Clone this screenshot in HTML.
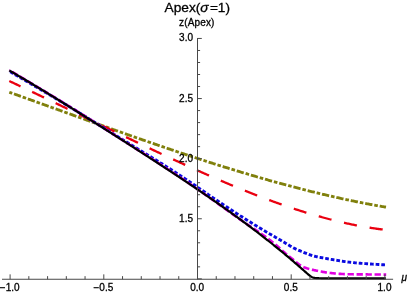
<!DOCTYPE html>
<html><head><meta charset="utf-8"><title>Apex</title>
<style>
html,body{margin:0;padding:0;background:#fff;}
body{width:409px;height:294px;overflow:hidden;font-family:"Liberation Sans",sans-serif;}
svg{display:block;}
text{font-family:"Liberation Sans",sans-serif;fill:#000;stroke:#000;stroke-width:0.3px;}
</style></head><body>
<svg width="409" height="294" viewBox="0 0 409 294">
<rect width="409" height="294" fill="#fff"/>
<g fill="none" stroke-linecap="butt" stroke-linejoin="round">
<path d="M9.30,92.25 L10.24,92.59 L11.19,92.92 L12.13,93.26 L13.08,93.60 L14.02,93.93 L14.96,94.27 L15.91,94.60 L16.85,94.94 L17.80,95.28 L18.74,95.62 L19.69,95.95 L20.63,96.29 L21.57,96.63 L22.52,96.96 L23.46,97.30 L24.41,97.64 L25.35,97.98 L26.29,98.32 L27.24,98.65 L28.18,98.99 L29.13,99.33 L30.07,99.67 L31.01,100.01 L31.96,100.35 L32.90,100.68 L33.85,101.02 L34.79,101.36 L35.74,101.70 L36.68,102.04 L37.62,102.38 L38.57,102.72 L39.51,103.06 L40.46,103.40 L41.40,103.74 L42.34,104.07 L43.29,104.41 L44.23,104.75 L45.18,105.09 L46.12,105.43 L47.06,105.77 L48.01,106.11 L48.95,106.45 L49.90,106.79 L50.84,107.13 L51.78,107.47 L52.73,107.81 L53.67,108.15 L54.62,108.49 L55.56,108.83 L56.51,109.17 L57.45,109.51 L58.39,109.85 L59.34,110.19 L60.28,110.53 L61.23,110.87 L62.17,111.21 L63.11,111.55 L64.06,111.89 L65.00,112.23 L65.95,112.57 L66.89,112.91 L67.83,113.25 L68.78,113.59 L69.72,113.93 L70.67,114.27 L71.61,114.61 L72.56,114.95 L73.50,115.29 L74.44,115.63 L75.39,115.97 L76.33,116.31 L77.28,116.65 L78.22,116.99 L79.16,117.33 L80.11,117.67 L81.05,118.01 L82.00,118.35 L82.94,118.69 L83.88,119.02 L84.83,119.36 L85.77,119.70 L86.72,120.04 L87.66,120.38 L88.61,120.72 L89.55,121.06 L90.49,121.40 L91.44,121.74 L92.38,122.07 L93.33,122.41 L94.27,122.75 L95.21,123.09 L96.16,123.43 L97.10,123.76 L98.05,124.10 L98.99,124.44 L99.93,124.78 L100.88,125.11 L101.82,125.45 L102.77,125.79 L103.71,126.13 L104.66,126.46 L105.60,126.80 L106.54,127.14 L107.49,127.47 L108.43,127.81 L109.38,128.14 L110.32,128.48 L111.26,128.82 L112.21,129.15 L113.15,129.49 L114.10,129.82 L115.04,130.16 L115.98,130.49 L116.93,130.83 L117.87,131.16 L118.82,131.50 L119.76,131.83 L120.71,132.16 L121.65,132.50 L122.59,132.83 L123.54,133.17 L124.48,133.50 L125.43,133.83 L126.37,134.16 L127.31,134.50 L128.26,134.83 L129.20,135.16 L130.15,135.49 L131.09,135.83 L132.03,136.16 L132.98,136.49 L133.92,136.82 L134.87,137.15 L135.81,137.48 L136.75,137.81 L137.70,138.14 L138.64,138.47 L139.59,138.80 L140.53,139.13 L141.48,139.46 L142.42,139.79 L143.36,140.12 L144.31,140.44 L145.25,140.77 L146.20,141.10 L147.14,141.43 L148.08,141.76 L149.03,142.08 L149.97,142.41 L150.92,142.74 L151.86,143.06 L152.80,143.39 L153.75,143.71 L154.69,144.04 L155.64,144.36 L156.58,144.69 L157.53,145.01 L158.47,145.34 L159.41,145.66 L160.36,145.98 L161.30,146.31 L162.25,146.63 L163.19,146.95 L164.13,147.27 L165.08,147.59 L166.02,147.92 L166.97,148.24 L167.91,148.56 L168.85,148.88 L169.80,149.20 L170.74,149.52 L171.69,149.84 L172.63,150.16 L173.58,150.47 L174.52,150.79 L175.46,151.11 L176.41,151.43 L177.35,151.74 L178.30,152.06 L179.24,152.38 L180.18,152.69 L181.13,153.01 L182.07,153.32 L183.02,153.64 L183.96,153.95 L184.90,154.27 L185.85,154.58 L186.79,154.89 L187.74,155.21 L188.68,155.52 L189.63,155.83 L190.57,156.14 L191.51,156.45 L192.46,156.77 L193.40,157.08 L194.35,157.39 L195.29,157.70 L196.23,158.00 L197.18,158.31 L198.12,158.62 L199.07,158.93 L200.01,159.24 L200.95,159.54 L201.90,159.85 L202.84,160.16 L203.79,160.46 L204.73,160.77 L205.67,161.07 L206.62,161.37 L207.56,161.68 L208.51,161.98 L209.45,162.28 L210.40,162.59 L211.34,162.89 L212.28,163.19 L213.23,163.49 L214.17,163.79 L215.12,164.09 L216.06,164.39 L217.00,164.69 L217.95,164.99 L218.89,165.28 L219.84,165.58 L220.78,165.88 L221.72,166.17 L222.67,166.47 L223.61,166.77 L224.56,167.06 L225.50,167.35 L226.45,167.65 L227.39,167.94 L228.33,168.23 L229.28,168.53 L230.22,168.82 L231.17,169.11 L232.11,169.40 L233.05,169.69 L234.00,169.98 L234.94,170.27 L235.89,170.55 L236.83,170.84 L237.77,171.13 L238.72,171.42 L239.66,171.70 L240.61,171.99 L241.55,172.27 L242.50,172.56 L243.44,172.84 L244.38,173.12 L245.33,173.40 L246.27,173.69 L247.22,173.97 L248.16,174.25 L249.10,174.53 L250.05,174.81 L250.99,175.09 L251.94,175.36 L252.88,175.64 L253.82,175.92 L254.77,176.20 L255.71,176.47 L256.66,176.75 L257.60,177.02 L258.55,177.29 L259.49,177.57 L260.43,177.84 L261.38,178.11 L262.32,178.38 L263.27,178.65 L264.21,178.92 L265.15,179.19 L266.10,179.46 L267.04,179.73 L267.99,180.00 L268.93,180.26 L269.87,180.53 L270.82,180.80 L271.76,181.06 L272.71,181.32 L273.65,181.59 L274.59,181.85 L275.54,182.11 L276.48,182.37 L277.43,182.63 L278.37,182.89 L279.32,183.15 L280.26,183.41 L281.20,183.67 L282.15,183.93 L283.09,184.18 L284.04,184.44 L284.98,184.69 L285.92,184.95 L286.87,185.20 L287.81,185.45 L288.76,185.71 L289.70,185.96 L290.64,186.21 L291.59,186.46 L292.53,186.71 L293.48,186.95 L294.42,187.20 L295.37,187.45 L296.31,187.70 L297.25,187.94 L298.20,188.19 L299.14,188.43 L300.09,188.67 L301.03,188.91 L301.97,189.16 L302.92,189.40 L303.86,189.64 L304.81,189.88 L305.75,190.11 L306.69,190.35 L307.64,190.59 L308.58,190.82 L309.53,191.06 L310.47,191.29 L311.42,191.53 L312.36,191.76 L313.30,191.99 L314.25,192.22 L315.19,192.45 L316.14,192.68 L317.08,192.91 L318.02,193.14 L318.97,193.37 L319.91,193.59 L320.86,193.82 L321.80,194.04 L322.74,194.27 L323.69,194.49 L324.63,194.71 L325.58,194.93 L326.52,195.15 L327.47,195.37 L328.41,195.59 L329.35,195.81 L330.30,196.03 L331.24,196.24 L332.19,196.46 L333.13,196.67 L334.07,196.89 L335.02,197.10 L335.96,197.31 L336.91,197.52 L337.85,197.73 L338.79,197.94 L339.74,198.15 L340.68,198.35 L341.63,198.56 L342.57,198.77 L343.52,198.97 L344.46,199.17 L345.40,199.38 L346.35,199.58 L347.29,199.78 L348.24,199.98 L349.18,200.18 L350.12,200.38 L351.07,200.57 L352.01,200.77 L352.96,200.97 L353.90,201.16 L354.84,201.35 L355.79,201.55 L356.73,201.74 L357.68,201.93 L358.62,202.12 L359.56,202.31 L360.51,202.49 L361.45,202.68 L362.40,202.87 L363.34,203.05 L364.29,203.24 L365.23,203.42 L366.17,203.60 L367.12,203.78 L368.06,203.96 L369.01,204.14 L369.95,204.32 L370.89,204.49 L371.84,204.67 L372.78,204.85 L373.73,205.02 L374.67,205.19 L375.61,205.36 L376.56,205.54 L377.50,205.71 L378.45,205.87 L379.39,206.04 L380.34,206.21 L381.28,206.37 L382.22,206.54 L383.17,206.70 L384.11,206.87 L385.06,207.03 L386.00,207.19" stroke="#80800c" stroke-width="2.85" stroke-dasharray="3.6 1.9 7.3 1.93" stroke-dashoffset="0.5"/>
<path d="M9.30,81.04 L10.24,81.49 L11.18,81.93 L12.13,82.38 L13.07,82.82 L14.01,83.27 L14.95,83.71 L15.89,84.16 L16.84,84.60 L17.78,85.05 L18.72,85.49 L19.66,85.94 L20.61,86.39 L21.55,86.83 L22.49,87.28 L23.43,87.73 L24.37,88.17 L25.32,88.62 L26.26,89.07 L27.20,89.52 L28.14,89.97 L29.08,90.41 L30.03,90.86 L30.97,91.31 L31.91,91.76 L32.85,92.21 L33.79,92.66 L34.74,93.11 L35.68,93.56 L36.62,94.01 L37.56,94.46 L38.51,94.91 L39.45,95.36 L40.39,95.81 L41.33,96.26 L42.27,96.71 L43.22,97.16 L44.16,97.61 L45.10,98.07 L46.04,98.52 L46.98,98.97 L47.93,99.42 L48.87,99.87 L49.81,100.33 L50.75,100.78 L51.69,101.23 L52.64,101.68 L53.58,102.14 L54.52,102.59 L55.46,103.04 L56.41,103.50 L57.35,103.95 L58.29,104.40 L59.23,104.86 L60.17,105.31 L61.12,105.76 L62.06,106.22 L63.00,106.67 L63.94,107.13 L64.88,107.58 L65.83,108.03 L66.77,108.49 L67.71,108.94 L68.65,109.40 L69.59,109.85 L70.54,110.31 L71.48,110.76 L72.42,111.22 L73.36,111.67 L74.31,112.13 L75.25,112.58 L76.19,113.04 L77.13,113.49 L78.07,113.95 L79.02,114.40 L79.96,114.86 L80.90,115.31 L81.84,115.77 L82.78,116.22 L83.73,116.68 L84.67,117.14 L85.61,117.59 L86.55,118.05 L87.49,118.50 L88.44,118.96 L89.38,119.41 L90.32,119.87 L91.26,120.32 L92.21,120.78 L93.15,121.24 L94.09,121.69 L95.03,122.15 L95.97,122.60 L96.92,123.06 L97.86,123.51 L98.80,123.97 L99.74,124.42 L100.68,124.88 L101.63,125.33 L102.57,125.79 L103.51,126.24 L104.45,126.70 L105.39,127.15 L106.34,127.61 L107.28,128.06 L108.22,128.52 L109.16,128.97 L110.11,129.43 L111.05,129.88 L111.99,130.34 L112.93,130.79 L113.87,131.24 L114.82,131.70 L115.76,132.15 L116.70,132.61 L117.64,133.06 L118.58,133.51 L119.53,133.97 L120.47,134.42 L121.41,134.87 L122.35,135.33 L123.29,135.78 L124.24,136.23 L125.18,136.68 L126.12,137.14 L127.06,137.59 L128.01,138.04 L128.95,138.49 L129.89,138.94 L130.83,139.39 L131.77,139.84 L132.72,140.30 L133.66,140.75 L134.60,141.20 L135.54,141.65 L136.48,142.10 L137.43,142.55 L138.37,143.00 L139.31,143.45 L140.25,143.89 L141.19,144.34 L142.14,144.79 L143.08,145.24 L144.02,145.69 L144.96,146.13 L145.91,146.58 L146.85,147.03 L147.79,147.48 L148.73,147.92 L149.67,148.37 L150.62,148.81 L151.56,149.26 L152.50,149.70 L153.44,150.15 L154.38,150.59 L155.33,151.04 L156.27,151.48 L157.21,151.92 L158.15,152.37 L159.09,152.81 L160.04,153.25 L160.98,153.69 L161.92,154.14 L162.86,154.58 L163.81,155.02 L164.75,155.46 L165.69,155.90 L166.63,156.34 L167.57,156.78 L168.52,157.21 L169.46,157.65 L170.40,158.09 L171.34,158.53 L172.28,158.96 L173.23,159.40 L174.17,159.84 L175.11,160.27 L176.05,160.71 L176.99,161.14 L177.94,161.57 L178.88,162.01 L179.82,162.44 L180.76,162.87 L181.71,163.30 L182.65,163.73 L183.59,164.16 L184.53,164.59 L185.47,165.02 L186.42,165.45 L187.36,165.88 L188.30,166.31 L189.24,166.74 L190.18,167.16 L191.13,167.59 L192.07,168.01 L193.01,168.44 L193.95,168.86 L194.89,169.29 L195.84,169.71 L196.78,170.13 L197.72,170.55 L198.66,170.97 L199.61,171.39 L200.55,171.81 L201.49,172.23 L202.43,172.65 L203.37,173.07 L204.32,173.49 L205.26,173.90 L206.20,174.32 L207.14,174.73 L208.08,175.15 L209.03,175.56 L209.97,175.97 L210.91,176.38 L211.85,176.79 L212.79,177.20 L213.74,177.61 L214.68,178.02 L215.62,178.43 L216.56,178.84 L217.51,179.24 L218.45,179.65 L219.39,180.05 L220.33,180.46 L221.27,180.86 L222.22,181.26 L223.16,181.66 L224.10,182.06 L225.04,182.46 L225.98,182.86 L226.93,183.26 L227.87,183.66 L228.81,184.05 L229.75,184.45 L230.69,184.84 L231.64,185.23 L232.58,185.63 L233.52,186.02 L234.46,186.41 L235.41,186.80 L236.35,187.18 L237.29,187.57 L238.23,187.96 L239.17,188.34 L240.12,188.73 L241.06,189.11 L242.00,189.49 L242.94,189.87 L243.88,190.25 L244.83,190.63 L245.77,191.01 L246.71,191.39 L247.65,191.76 L248.59,192.14 L249.54,192.51 L250.48,192.88 L251.42,193.26 L252.36,193.63 L253.31,194.00 L254.25,194.36 L255.19,194.73 L256.13,195.10 L257.07,195.46 L258.02,195.82 L258.96,196.19 L259.90,196.55 L260.84,196.91 L261.78,197.27 L262.73,197.62 L263.67,197.98 L264.61,198.33 L265.55,198.69 L266.49,199.04 L267.44,199.39 L268.38,199.74 L269.32,200.09 L270.26,200.44 L271.21,200.78 L272.15,201.13 L273.09,201.47 L274.03,201.81 L274.97,202.15 L275.92,202.49 L276.86,202.83 L277.80,203.17 L278.74,203.50 L279.68,203.83 L280.63,204.17 L281.57,204.50 L282.51,204.83 L283.45,205.16 L284.39,205.48 L285.34,205.81 L286.28,206.13 L287.22,206.45 L288.16,206.77 L289.11,207.09 L290.05,207.41 L290.99,207.73 L291.93,208.04 L292.87,208.35 L293.82,208.67 L294.76,208.98 L295.70,209.28 L296.64,209.59 L297.58,209.90 L298.53,210.20 L299.47,210.50 L300.41,210.80 L301.35,211.10 L302.29,211.40 L303.24,211.69 L304.18,211.99 L305.12,212.28 L306.06,212.57 L307.01,212.86 L307.95,213.14 L308.89,213.43 L309.83,213.71 L310.77,214.00 L311.72,214.28 L312.66,214.55 L313.60,214.83 L314.54,215.11 L315.48,215.38 L316.43,215.65 L317.37,215.92 L318.31,216.19 L319.25,216.45 L320.19,216.72 L321.14,216.98 L322.08,217.24 L323.02,217.50 L323.96,217.75 L324.91,218.01 L325.85,218.26 L326.79,218.51 L327.73,218.76 L328.67,219.01 L329.62,219.25 L330.56,219.49 L331.50,219.73 L332.44,219.97 L333.38,220.21 L334.33,220.45 L335.27,220.68 L336.21,220.91 L337.15,221.14 L338.09,221.36 L339.04,221.59 L339.98,221.81 L340.92,222.03 L341.86,222.25 L342.81,222.47 L343.75,222.68 L344.69,222.89 L345.63,223.10 L346.57,223.31 L347.52,223.52 L348.46,223.72 L349.40,223.92 L350.34,224.12 L351.28,224.31 L352.23,224.51 L353.17,224.70 L354.11,224.89 L355.05,225.08 L355.99,225.26 L356.94,225.45 L357.88,225.63 L358.82,225.81 L359.76,225.98 L360.71,226.16 L361.65,226.33 L362.59,226.50 L363.53,226.66 L364.47,226.83 L365.42,226.99 L366.36,227.15 L367.30,227.30 L368.24,227.46 L369.18,227.61 L370.13,227.76 L371.07,227.91 L372.01,228.05 L372.95,228.19 L373.89,228.33 L374.84,228.47 L375.78,228.60 L376.72,228.74 L377.66,228.87 L378.61,228.99 L379.55,229.12 L380.49,229.24 L381.43,229.36 L382.37,229.47 L383.32,229.59 L384.26,229.70 L385.20,229.81" stroke="#ea0010" stroke-width="2.3" stroke-dasharray="13.2 12.87" stroke-dashoffset="0.8"/>
<path d="M9.30,71.20 L10.05,71.64 L10.81,72.08 L11.56,72.52 L12.32,72.96 L13.07,73.40 L13.82,73.84 L14.58,74.28 L15.33,74.72 L16.09,75.16 L16.84,75.60 L17.59,76.04 L18.35,76.48 L19.10,76.92 L19.85,77.36 L20.61,77.80 L21.36,78.24 L22.12,78.68 L22.87,79.12 L23.62,79.56 L24.38,80.00 L25.13,80.44 L25.89,80.88 L26.64,81.32 L27.39,81.76 L28.15,82.20 L28.90,82.65 L29.66,83.09 L30.41,83.53 L31.16,83.97 L31.92,84.41 L32.67,84.86 L33.43,85.30 L34.18,85.74 L34.93,86.19 L35.69,86.63 L36.44,87.07 L37.19,87.52 L37.95,87.96 L38.70,88.40 L39.46,88.85 L40.21,89.29 L40.96,89.74 L41.72,90.18 L42.47,90.63 L43.23,91.07 L43.98,91.52 L44.73,91.97 L45.49,92.41 L46.24,92.86 L47.00,93.31 L47.75,93.75 L48.50,94.20 L49.26,94.65 L50.01,95.10 L50.76,95.55 L51.52,96.00 L52.27,96.45 L53.03,96.90 L53.78,97.35 L54.53,97.80 L55.29,98.25 L56.04,98.70 L56.80,99.15 L57.55,99.60 L58.30,100.05 L59.06,100.50 L59.81,100.96 L60.57,101.41 L61.32,101.86 L62.07,102.32 L62.83,102.77 L63.58,103.23 L64.34,103.68 L65.09,104.14 L65.84,104.59 L66.60,105.05 L67.35,105.51 L68.10,105.97 L68.86,106.42 L69.61,106.88 L70.37,107.34 L71.12,107.80 L71.87,108.26 L72.63,108.72 L73.38,109.18 L74.14,109.64 L74.89,110.10 L75.64,110.56 L76.40,111.02 L77.15,111.49 L77.91,111.95 L78.66,112.41 L79.41,112.87 L80.17,113.34 L80.92,113.80 L81.68,114.27 L82.43,114.73 L83.18,115.19 L83.94,115.66 L84.69,116.13 L85.44,116.59 L86.20,117.06 L86.95,117.52 L87.71,117.99 L88.46,118.46 L89.21,118.92 L89.97,119.39 L90.72,119.86 L91.48,120.32 L92.23,120.79 L92.98,121.26 L93.74,121.73 L94.49,122.19 L95.25,122.66 L96.00,123.13 L96.75,123.60 L97.51,124.06 L98.26,124.53 L99.02,125.00 L99.77,125.47 L100.52,125.94 L101.28,126.41 L102.03,126.88 L102.78,127.34 L103.54,127.81 L104.29,128.28 L105.05,128.75 L105.80,129.22 L106.55,129.69 L107.31,130.16 L108.06,130.62 L108.82,131.09 L109.57,131.56 L110.32,132.03 L111.08,132.50 L111.83,132.97 L112.59,133.43 L113.34,133.90 L114.09,134.37 L114.85,134.84 L115.60,135.30 L116.35,135.77 L117.11,136.24 L117.86,136.71 L118.62,137.17 L119.37,137.64 L120.12,138.11 L120.88,138.57 L121.63,139.04 L122.39,139.50 L123.14,139.97 L123.89,140.43 L124.65,140.90 L125.40,141.36 L126.16,141.83 L126.91,142.29 L127.66,142.76 L128.42,143.22 L129.17,143.68 L129.93,144.15 L130.68,144.61 L131.43,145.07 L132.19,145.53 L132.94,145.99 L133.69,146.46 L134.45,146.92 L135.20,147.38 L135.96,147.84 L136.71,148.30 L137.46,148.76 L138.22,149.22 L138.97,149.68 L139.73,150.14 L140.48,150.60 L141.23,151.06 L141.99,151.52 L142.74,151.98 L143.50,152.44 L144.25,152.91 L145.00,153.37 L145.76,153.83 L146.51,154.29 L147.27,154.75 L148.02,155.21 L148.77,155.67 L149.53,156.14 L150.28,156.60 L151.03,157.06 L151.79,157.52 L152.54,157.99 L153.30,158.45 L154.05,158.92 L154.80,159.38 L155.56,159.85 L156.31,160.31 L157.07,160.78 L157.82,161.25 L158.57,161.72 L159.33,162.18 L160.08,162.65 L160.84,163.12 L161.59,163.59 L162.34,164.06 L163.10,164.54 L163.85,165.01 L164.61,165.48 L165.36,165.96 L166.11,166.43 L166.87,166.91 L167.62,167.38 L168.37,167.86 L169.13,168.34 L169.88,168.82 L170.64,169.30 L171.39,169.78 L172.14,170.27 L172.90,170.75 L173.65,171.23 L174.41,171.72 L175.16,172.21 L175.91,172.70 L176.67,173.19 L177.42,173.68 L178.18,174.17 L178.93,174.66 L179.68,175.16 L180.44,175.65 L181.19,176.15 L181.94,176.65 L182.70,177.15 L183.45,177.65 L184.21,178.15 L184.96,178.66 L185.71,179.16 L186.47,179.66 L187.22,180.17 L187.98,180.68 L188.73,181.19 L189.48,181.70 L190.24,182.21 L190.99,182.72 L191.75,183.23 L192.50,183.74 L193.25,184.25 L194.01,184.77 L194.76,185.28 L195.52,185.79 L196.27,186.31 L197.02,186.82 L197.78,187.34 L198.53,187.85 L199.28,188.37 L200.04,188.89 L200.79,189.40 L201.55,189.92 L202.30,190.44 L203.05,190.95 L203.81,191.47 L204.56,191.99 L205.32,192.51 L206.07,193.02 L206.82,193.54 L207.58,194.05 L208.33,194.57 L209.09,195.09 L209.84,195.60 L210.59,196.12 L211.35,196.63 L212.10,197.15 L212.86,197.66 L213.61,198.17 L214.36,198.69 L215.12,199.20 L215.87,199.71 L216.62,200.22 L217.38,200.73 L218.13,201.24 L218.89,201.75 L219.64,202.26 L220.39,202.76 L221.15,203.27 L221.90,203.78 L222.66,204.28 L223.41,204.78 L224.16,205.28 L224.92,205.79 L225.67,206.29 L226.43,206.79 L227.18,207.28 L227.93,207.78 L228.69,208.28 L229.44,208.77 L230.19,209.27 L230.95,209.76 L231.70,210.26 L232.46,210.75 L233.21,211.24 L233.96,211.73 L234.72,212.22 L235.47,212.71 L236.23,213.20 L236.98,213.68 L237.73,214.17 L238.49,214.66 L239.24,215.14 L240.00,215.63 L240.75,216.11 L241.50,216.59 L242.26,217.07 L243.01,217.55 L243.77,218.03 L244.52,218.51 L245.27,218.99 L246.03,219.47 L246.78,219.94 L247.53,220.42 L248.29,220.90 L249.04,221.37 L249.80,221.84 L250.55,222.31 L251.30,222.79 L252.06,223.26 L252.81,223.72 L253.57,224.19 L254.32,224.66 L255.07,225.13 L255.83,225.59 L256.58,226.05 L257.34,226.52 L258.09,226.98 L258.84,227.44 L259.60,227.90 L260.35,228.35 L261.11,228.81 L261.86,229.26 L262.61,229.72 L263.37,230.17 L264.12,230.62 L264.87,231.07 L265.63,231.52 L266.38,231.96 L267.14,232.41 L267.89,232.85 L268.64,233.29 L269.40,233.73 L270.15,234.17 L270.91,234.61 L271.66,235.04 L272.41,235.48 L273.17,235.91 L273.92,236.35 L274.68,236.78 L275.43,237.22 L276.18,237.65 L276.94,238.09 L277.69,238.52 L278.45,238.96 L279.20,239.39 L279.95,239.83 L280.71,240.27 L281.46,240.71 L282.21,241.16 L282.97,241.60 L283.72,242.05 L284.48,242.50 L285.23,242.95 L285.98,243.40 L286.74,243.86 L287.49,244.32 L288.25,244.79 L289.00,245.25 L289.75,245.70 L290.51,246.16 L291.26,246.60 L292.02,247.03 L292.77,247.45 L293.52,247.86 L294.28,248.25 L295.03,248.62 L295.78,248.98 L296.54,249.33 L297.29,249.67 L298.05,250.00 L298.80,250.32 L299.55,250.64 L300.31,250.96 L301.06,251.28 L301.82,251.60 L302.57,251.91 L303.32,252.23 L304.08,252.54 L304.83,252.85 L305.59,253.16 L306.34,253.46 L307.09,253.76 L307.85,254.05 L308.60,254.34 L309.36,254.62 L310.11,254.89 L310.86,255.15 L311.62,255.40 L312.37,255.63 L313.12,255.86 L313.88,256.07 L314.63,256.26 L315.39,256.44 L316.14,256.61 L316.89,256.77 L317.65,256.92 L318.40,257.06 L319.16,257.20 L319.91,257.34 L320.66,257.48 L321.42,257.61 L322.17,257.75 L322.93,257.89 L323.68,258.03 L324.43,258.16 L325.19,258.30 L325.94,258.44 L326.70,258.58 L327.45,258.72 L328.20,258.86 L328.96,258.99 L329.71,259.13 L330.46,259.26 L331.22,259.39 L331.97,259.53 L332.73,259.66 L333.48,259.79 L334.23,259.92 L334.99,260.04 L335.74,260.17 L336.50,260.29 L337.25,260.42 L338.00,260.54 L338.76,260.66 L339.51,260.78 L340.27,260.90 L341.02,261.02 L341.77,261.13 L342.53,261.24 L343.28,261.35 L344.04,261.46 L344.79,261.57 L345.54,261.68 L346.30,261.78 L347.05,261.88 L347.80,261.98 L348.56,262.07 L349.31,262.17 L350.07,262.26 L350.82,262.35 L351.57,262.43 L352.33,262.51 L353.08,262.59 L353.84,262.67 L354.59,262.75 L355.34,262.82 L356.10,262.89 L356.85,262.96 L357.61,263.03 L358.36,263.09 L359.11,263.16 L359.87,263.22 L360.62,263.28 L361.37,263.34 L362.13,263.40 L362.88,263.45 L363.64,263.51 L364.39,263.57 L365.14,263.62 L365.90,263.67 L366.65,263.73 L367.41,263.78 L368.16,263.83 L368.91,263.88 L369.67,263.93 L370.42,263.98 L371.18,264.03 L371.93,264.08 L372.68,264.13 L373.44,264.18 L374.19,264.22 L374.95,264.27 L375.70,264.32 L376.45,264.36 L377.21,264.41 L377.96,264.46 L378.71,264.50 L379.47,264.55 L380.22,264.59 L380.98,264.64 L381.73,264.68 L382.48,264.72 L383.24,264.77 L383.99,264.81 L384.75,264.86 L385.50,264.90" stroke="#0a0ae0" stroke-width="2.9" stroke-dasharray="3.7 1.95" stroke-dashoffset="4.65"/>
<path d="M9.30,70.20 L10.06,70.65 L10.81,71.10 L11.57,71.55 L12.32,71.99 L13.08,72.44 L13.83,72.89 L14.59,73.34 L15.34,73.79 L16.10,74.24 L16.85,74.69 L17.61,75.14 L18.36,75.59 L19.12,76.03 L19.87,76.48 L20.63,76.93 L21.38,77.38 L22.14,77.83 L22.90,78.28 L23.65,78.73 L24.41,79.18 L25.16,79.63 L25.92,80.08 L26.67,80.53 L27.43,80.98 L28.18,81.43 L28.94,81.89 L29.69,82.34 L30.45,82.79 L31.20,83.24 L31.96,83.69 L32.71,84.14 L33.47,84.59 L34.23,85.05 L34.98,85.50 L35.74,85.95 L36.49,86.40 L37.25,86.86 L38.00,87.31 L38.76,87.77 L39.51,88.22 L40.27,88.67 L41.02,89.13 L41.78,89.58 L42.53,90.04 L43.29,90.49 L44.04,90.95 L44.80,91.41 L45.55,91.86 L46.31,92.32 L47.07,92.78 L47.82,93.23 L48.58,93.69 L49.33,94.15 L50.09,94.61 L50.84,95.07 L51.60,95.53 L52.35,95.99 L53.11,96.45 L53.86,96.91 L54.62,97.37 L55.37,97.83 L56.13,98.29 L56.88,98.75 L57.64,99.21 L58.40,99.68 L59.15,100.14 L59.91,100.60 L60.66,101.07 L61.42,101.53 L62.17,102.00 L62.93,102.46 L63.68,102.93 L64.44,103.40 L65.19,103.86 L65.95,104.33 L66.70,104.80 L67.46,105.27 L68.21,105.74 L68.97,106.20 L69.72,106.67 L70.48,107.14 L71.24,107.61 L71.99,108.08 L72.75,108.56 L73.50,109.03 L74.26,109.50 L75.01,109.97 L75.77,110.44 L76.52,110.91 L77.28,111.39 L78.03,111.86 L78.79,112.33 L79.54,112.81 L80.30,113.28 L81.05,113.76 L81.81,114.23 L82.57,114.71 L83.32,115.18 L84.08,115.66 L84.83,116.13 L85.59,116.61 L86.34,117.09 L87.10,117.56 L87.85,118.04 L88.61,118.52 L89.36,119.00 L90.12,119.47 L90.87,119.95 L91.63,120.43 L92.38,120.91 L93.14,121.39 L93.89,121.87 L94.65,122.35 L95.41,122.83 L96.16,123.30 L96.92,123.78 L97.67,124.26 L98.43,124.74 L99.18,125.22 L99.94,125.71 L100.69,126.19 L101.45,126.67 L102.20,127.15 L102.96,127.63 L103.71,128.11 L104.47,128.59 L105.22,129.07 L105.98,129.55 L106.74,130.03 L107.49,130.52 L108.25,131.00 L109.00,131.48 L109.76,131.96 L110.51,132.44 L111.27,132.93 L112.02,133.41 L112.78,133.89 L113.53,134.37 L114.29,134.86 L115.04,135.34 L115.80,135.82 L116.55,136.30 L117.31,136.79 L118.06,137.27 L118.82,137.75 L119.58,138.23 L120.33,138.72 L121.09,139.20 L121.84,139.68 L122.60,140.16 L123.35,140.65 L124.11,141.13 L124.86,141.61 L125.62,142.09 L126.37,142.58 L127.13,143.06 L127.88,143.54 L128.64,144.02 L129.39,144.51 L130.15,144.99 L130.91,145.47 L131.66,145.95 L132.42,146.43 L133.17,146.92 L133.93,147.40 L134.68,147.88 L135.44,148.36 L136.19,148.84 L136.95,149.33 L137.70,149.81 L138.46,150.29 L139.21,150.77 L139.97,151.25 L140.72,151.74 L141.48,152.22 L142.23,152.70 L142.99,153.18 L143.75,153.67 L144.50,154.15 L145.26,154.63 L146.01,155.12 L146.77,155.60 L147.52,156.08 L148.28,156.57 L149.03,157.05 L149.79,157.54 L150.54,158.02 L151.30,158.51 L152.05,158.99 L152.81,159.48 L153.56,159.96 L154.32,160.45 L155.07,160.93 L155.83,161.42 L156.59,161.91 L157.34,162.40 L158.10,162.88 L158.85,163.37 L159.61,163.86 L160.36,164.35 L161.12,164.84 L161.87,165.33 L162.63,165.82 L163.38,166.31 L164.14,166.80 L164.89,167.29 L165.65,167.79 L166.40,168.28 L167.16,168.77 L167.92,169.27 L168.67,169.76 L169.43,170.25 L170.18,170.75 L170.94,171.25 L171.69,171.74 L172.45,172.24 L173.20,172.74 L173.96,173.24 L174.71,173.74 L175.47,174.24 L176.22,174.74 L176.98,175.24 L177.73,175.74 L178.49,176.24 L179.24,176.75 L180.00,177.25 L180.76,177.75 L181.51,178.26 L182.27,178.77 L183.02,179.27 L183.78,179.78 L184.53,180.29 L185.29,180.80 L186.04,181.31 L186.80,181.82 L187.55,182.33 L188.31,182.85 L189.06,183.36 L189.82,183.87 L190.57,184.39 L191.33,184.91 L192.09,185.42 L192.84,185.94 L193.60,186.46 L194.35,186.98 L195.11,187.50 L195.86,188.03 L196.62,188.55 L197.37,189.07 L198.13,189.60 L198.88,190.12 L199.64,190.65 L200.39,191.18 L201.15,191.71 L201.90,192.24 L202.66,192.77 L203.41,193.30 L204.17,193.84 L204.93,194.37 L205.68,194.91 L206.44,195.44 L207.19,195.98 L207.95,196.52 L208.70,197.05 L209.46,197.59 L210.21,198.13 L210.97,198.67 L211.72,199.21 L212.48,199.75 L213.23,200.29 L213.99,200.83 L214.74,201.37 L215.50,201.91 L216.26,202.45 L217.01,203.00 L217.77,203.54 L218.52,204.08 L219.28,204.62 L220.03,205.16 L220.79,205.71 L221.54,206.25 L222.30,206.79 L223.05,207.33 L223.81,207.87 L224.56,208.41 L225.32,208.95 L226.07,209.50 L226.83,210.04 L227.58,210.57 L228.34,211.11 L229.10,211.65 L229.85,212.19 L230.61,212.73 L231.36,213.27 L232.12,213.80 L232.87,214.34 L233.63,214.87 L234.38,215.41 L235.14,215.94 L235.89,216.47 L236.65,217.00 L237.40,217.53 L238.16,218.06 L238.91,218.59 L239.67,219.12 L240.43,219.64 L241.18,220.17 L241.94,220.69 L242.69,221.21 L243.45,221.73 L244.20,222.25 L244.96,222.77 L245.71,223.29 L246.47,223.80 L247.22,224.32 L247.98,224.83 L248.73,225.34 L249.49,225.85 L250.24,226.36 L251.00,226.86 L251.75,227.37 L252.51,227.87 L253.27,228.37 L254.02,228.88 L254.78,229.38 L255.53,229.88 L256.29,230.39 L257.04,230.89 L257.80,231.40 L258.55,231.91 L259.31,232.42 L260.06,232.93 L260.82,233.45 L261.57,233.97 L262.33,234.49 L263.08,235.02 L263.84,235.55 L264.59,236.09 L265.35,236.63 L266.11,237.18 L266.86,237.73 L267.62,238.29 L268.37,238.85 L269.13,239.43 L269.88,240.01 L270.64,240.59 L271.39,241.19 L272.15,241.79 L272.90,242.40 L273.66,243.02 L274.41,243.65 L275.17,244.29 L275.92,244.94 L276.68,245.59 L277.44,246.26 L278.19,246.93 L278.95,247.60 L279.70,248.28 L280.46,248.95 L281.21,249.63 L281.97,250.30 L282.72,250.98 L283.48,251.65 L284.23,252.31 L284.99,252.96 L285.74,253.61 L286.50,254.25 L287.25,254.88 L288.01,255.49 L288.76,256.10 L289.52,256.71 L290.28,257.31 L291.03,257.91 L291.79,258.52 L292.54,259.13 L293.30,259.75 L294.05,260.38 L294.81,261.02 L295.56,261.66 L296.32,262.30 L297.07,262.92 L297.83,263.53 L298.58,264.12 L299.34,264.68 L300.09,265.20 L300.85,265.68 L301.61,266.12 L302.36,266.52 L303.12,266.89 L303.87,267.22 L304.63,267.52 L305.38,267.80 L306.14,268.06 L306.89,268.31 L307.65,268.53 L308.40,268.75 L309.16,268.95 L309.91,269.15 L310.67,269.34 L311.42,269.52 L312.18,269.69 L312.93,269.86 L313.69,270.03 L314.45,270.20 L315.20,270.36 L315.96,270.52 L316.71,270.68 L317.47,270.84 L318.22,271.00 L318.98,271.15 L319.73,271.30 L320.49,271.44 L321.24,271.58 L322.00,271.72 L322.75,271.85 L323.51,271.98 L324.26,272.11 L325.02,272.23 L325.78,272.35 L326.53,272.46 L327.29,272.57 L328.04,272.68 L328.80,272.78 L329.55,272.88 L330.31,272.97 L331.06,273.06 L331.82,273.15 L332.57,273.23 L333.33,273.31 L334.08,273.39 L334.84,273.46 L335.59,273.53 L336.35,273.60 L337.10,273.66 L337.86,273.72 L338.62,273.77 L339.37,273.83 L340.13,273.87 L340.88,273.92 L341.64,273.96 L342.39,274.00 L343.15,274.04 L343.90,274.08 L344.66,274.11 L345.41,274.14 L346.17,274.17 L346.92,274.19 L347.68,274.21 L348.43,274.23 L349.19,274.25 L349.95,274.27 L350.70,274.29 L351.46,274.30 L352.21,274.31 L352.97,274.32 L353.72,274.33 L354.48,274.34 L355.23,274.35 L355.99,274.36 L356.74,274.36 L357.50,274.37 L358.25,274.37 L359.01,274.38 L359.76,274.38 L360.52,274.39 L361.27,274.39 L362.03,274.39 L362.79,274.40 L363.54,274.40 L364.30,274.40 L365.05,274.41 L365.81,274.41 L366.56,274.42 L367.32,274.42 L368.07,274.43 L368.83,274.43 L369.58,274.44 L370.34,274.45 L371.09,274.45 L371.85,274.46 L372.60,274.46 L373.36,274.47 L374.12,274.48 L374.87,274.48 L375.63,274.49 L376.38,274.50 L377.14,274.51 L377.89,274.51 L378.65,274.52 L379.40,274.53 L380.16,274.54 L380.91,274.54 L381.67,274.55 L382.42,274.56 L383.18,274.57 L383.93,274.58 L384.69,274.58 L385.44,274.59 L386.20,274.60" stroke="#e000e0" stroke-width="2.6" stroke-dasharray="6.3 2.7" stroke-dashoffset="5.8"/>
<path d="M9.30,70.50 L9.93,70.86 L10.56,71.22 L11.19,71.59 L11.81,71.95 L12.44,72.32 L13.07,72.68 L13.70,73.04 L14.33,73.41 L14.96,73.78 L15.59,74.14 L16.21,74.51 L16.84,74.88 L17.47,75.24 L18.10,75.61 L18.73,75.98 L19.36,76.35 L19.99,76.72 L20.61,77.09 L21.24,77.46 L21.87,77.83 L22.50,78.20 L23.13,78.57 L23.76,78.94 L24.39,79.31 L25.01,79.69 L25.64,80.06 L26.27,80.43 L26.90,80.81 L27.53,81.18 L28.16,81.55 L28.78,81.93 L29.41,82.30 L30.04,82.68 L30.67,83.05 L31.30,83.43 L31.93,83.81 L32.56,84.18 L33.18,84.56 L33.81,84.94 L34.44,85.32 L35.07,85.69 L35.70,86.07 L36.33,86.45 L36.96,86.83 L37.58,87.21 L38.21,87.59 L38.84,87.97 L39.47,88.35 L40.10,88.73 L40.73,89.11 L41.36,89.49 L41.98,89.87 L42.61,90.25 L43.24,90.64 L43.87,91.02 L44.50,91.40 L45.13,91.78 L45.76,92.17 L46.38,92.55 L47.01,92.93 L47.64,93.32 L48.27,93.70 L48.90,94.09 L49.53,94.47 L50.16,94.85 L50.78,95.24 L51.41,95.62 L52.04,96.01 L52.67,96.40 L53.30,96.78 L53.93,97.17 L54.56,97.55 L55.18,97.94 L55.81,98.33 L56.44,98.72 L57.07,99.10 L57.70,99.49 L58.33,99.88 L58.96,100.27 L59.58,100.65 L60.21,101.04 L60.84,101.43 L61.47,101.82 L62.10,102.21 L62.73,102.60 L63.36,102.99 L63.98,103.38 L64.61,103.77 L65.24,104.16 L65.87,104.55 L66.50,104.94 L67.13,105.33 L67.75,105.72 L68.38,106.11 L69.01,106.50 L69.64,106.89 L70.27,107.28 L70.90,107.68 L71.53,108.07 L72.15,108.46 L72.78,108.85 L73.41,109.24 L74.04,109.64 L74.67,110.03 L75.30,110.42 L75.93,110.81 L76.55,111.21 L77.18,111.60 L77.81,111.99 L78.44,112.39 L79.07,112.78 L79.70,113.18 L80.33,113.57 L80.95,113.96 L81.58,114.36 L82.21,114.75 L82.84,115.15 L83.47,115.54 L84.10,115.94 L84.73,116.33 L85.35,116.73 L85.98,117.12 L86.61,117.52 L87.24,117.91 L87.87,118.31 L88.50,118.70 L89.13,119.10 L89.75,119.50 L90.38,119.89 L91.01,120.29 L91.64,120.68 L92.27,121.08 L92.90,121.48 L93.53,121.87 L94.15,122.27 L94.78,122.67 L95.41,123.07 L96.04,123.46 L96.67,123.86 L97.30,124.26 L97.93,124.66 L98.55,125.05 L99.18,125.45 L99.81,125.85 L100.44,126.25 L101.07,126.65 L101.70,127.04 L102.33,127.44 L102.95,127.84 L103.58,128.24 L104.21,128.64 L104.84,129.04 L105.47,129.44 L106.10,129.83 L106.72,130.23 L107.35,130.63 L107.98,131.03 L108.61,131.43 L109.24,131.83 L109.87,132.23 L110.50,132.63 L111.12,133.03 L111.75,133.43 L112.38,133.83 L113.01,134.23 L113.64,134.63 L114.27,135.03 L114.90,135.43 L115.52,135.83 L116.15,136.23 L116.78,136.64 L117.41,137.04 L118.04,137.44 L118.67,137.84 L119.30,138.24 L119.92,138.64 L120.55,139.04 L121.18,139.44 L121.81,139.85 L122.44,140.25 L123.07,140.65 L123.70,141.05 L124.32,141.45 L124.95,141.86 L125.58,142.26 L126.21,142.66 L126.84,143.06 L127.47,143.47 L128.10,143.87 L128.72,144.27 L129.35,144.68 L129.98,145.08 L130.61,145.48 L131.24,145.89 L131.87,146.29 L132.50,146.69 L133.12,147.10 L133.75,147.50 L134.38,147.91 L135.01,148.31 L135.64,148.72 L136.27,149.12 L136.90,149.52 L137.52,149.93 L138.15,150.33 L138.78,150.74 L139.41,151.14 L140.04,151.55 L140.67,151.95 L141.29,152.36 L141.92,152.77 L142.55,153.17 L143.18,153.58 L143.81,153.98 L144.44,154.39 L145.07,154.80 L145.69,155.20 L146.32,155.61 L146.95,156.02 L147.58,156.42 L148.21,156.83 L148.84,157.24 L149.47,157.65 L150.09,158.05 L150.72,158.46 L151.35,158.87 L151.98,159.28 L152.61,159.69 L153.24,160.09 L153.87,160.50 L154.49,160.91 L155.12,161.32 L155.75,161.73 L156.38,162.14 L157.01,162.55 L157.64,162.96 L158.27,163.37 L158.89,163.78 L159.52,164.19 L160.15,164.60 L160.78,165.01 L161.41,165.42 L162.04,165.83 L162.67,166.24 L163.29,166.65 L163.92,167.06 L164.55,167.48 L165.18,167.89 L165.81,168.30 L166.44,168.71 L167.07,169.12 L167.69,169.54 L168.32,169.95 L168.95,170.36 L169.58,170.78 L170.21,171.19 L170.84,171.60 L171.47,172.02 L172.09,172.43 L172.72,172.85 L173.35,173.26 L173.98,173.68 L174.61,174.09 L175.24,174.51 L175.87,174.92 L176.49,175.34 L177.12,175.76 L177.75,176.17 L178.38,176.59 L179.01,177.01 L179.64,177.42 L180.26,177.84 L180.89,178.26 L181.52,178.68 L182.15,179.10 L182.78,179.51 L183.41,179.93 L184.04,180.35 L184.66,180.77 L185.29,181.19 L185.92,181.61 L186.55,182.03 L187.18,182.45 L187.81,182.87 L188.44,183.29 L189.06,183.72 L189.69,184.14 L190.32,184.56 L190.95,184.98 L191.58,185.41 L192.21,185.83 L192.84,186.25 L193.46,186.68 L194.09,187.10 L194.72,187.53 L195.35,187.95 L195.98,188.38 L196.61,188.80 L197.24,189.23 L197.86,189.65 L198.49,190.08 L199.12,190.51 L199.75,190.93 L200.38,191.36 L201.01,191.79 L201.64,192.22 L202.26,192.65 L202.89,193.08 L203.52,193.51 L204.15,193.94 L204.78,194.37 L205.41,194.80 L206.04,195.23 L206.66,195.66 L207.29,196.09 L207.92,196.53 L208.55,196.96 L209.18,197.39 L209.81,197.83 L210.44,198.26 L211.06,198.70 L211.69,199.13 L212.32,199.57 L212.95,200.00 L213.58,200.44 L214.21,200.88 L214.84,201.31 L215.46,201.75 L216.09,202.19 L216.72,202.63 L217.35,203.07 L217.98,203.51 L218.61,203.95 L219.23,204.39 L219.86,204.83 L220.49,205.27 L221.12,205.72 L221.75,206.16 L222.38,206.60 L223.01,207.05 L223.63,207.49 L224.26,207.94 L224.89,208.38 L225.52,208.83 L226.15,209.28 L226.78,209.72 L227.41,210.17 L228.03,210.62 L228.66,211.07 L229.29,211.52 L229.92,211.97 L230.55,212.42 L231.18,212.87 L231.81,213.32 L232.43,213.78 L233.06,214.23 L233.69,214.68 L234.32,215.14 L234.95,215.59 L235.58,216.05 L236.21,216.50 L236.83,216.96 L237.46,217.42 L238.09,217.88 L238.72,218.34 L239.35,218.80 L239.98,219.26 L240.61,219.72 L241.23,220.18 L241.86,220.64 L242.49,221.10 L243.12,221.57 L243.75,222.03 L244.38,222.50 L245.01,222.96 L245.63,223.43 L246.26,223.90 L246.89,224.37 L247.52,224.84 L248.15,225.30 L248.78,225.78 L249.41,226.25 L250.03,226.72 L250.66,227.19 L251.29,227.66 L251.92,228.14 L252.55,228.61 L253.18,229.09 L253.81,229.57 L254.43,230.04 L255.06,230.52 L255.69,231.00 L256.32,231.48 L256.95,231.96 L257.58,232.44 L258.20,232.92 L258.83,233.41 L259.46,233.89 L260.09,234.38 L260.72,234.86 L261.35,235.35 L261.98,235.84 L262.60,236.32 L263.23,236.81 L263.86,237.30 L264.49,237.79 L265.12,238.29 L265.75,238.78 L266.38,239.27 L267.00,239.77 L267.63,240.26 L268.26,240.76 L268.89,241.26 L269.52,241.76 L270.15,242.26 L270.78,242.76 L271.40,243.26 L272.03,243.76 L272.66,244.26 L273.29,244.77 L273.92,245.27 L274.55,245.78 L275.18,246.29 L275.80,246.80 L276.43,247.31 L277.06,247.82 L277.69,248.33 L278.32,248.84 L278.95,249.35 L279.58,249.87 L280.20,250.38 L280.83,250.90 L281.46,251.42 L282.09,251.94 L282.72,252.46 L283.35,252.98 L283.98,253.50 L284.60,254.02 L285.23,254.55 L285.86,255.07 L286.49,255.60 L287.12,256.13 L287.75,256.66 L288.38,257.19 L289.00,257.72 L289.63,258.25 L290.26,258.78 L290.89,259.32 L291.52,259.85 L292.15,260.39 L292.77,260.93 L293.40,261.46 L294.03,262.00 L294.66,262.54 L295.29,263.09 L295.92,263.63 L296.55,264.17 L297.17,264.72 L297.80,265.26 L298.43,265.81 L299.06,266.36 L299.69,266.91 L300.32,267.46 L300.95,268.01 L301.57,268.56 L302.20,269.11 L302.83,269.66 L303.46,270.21 L304.09,270.76 L304.72,271.31 L305.35,271.86 L305.97,272.41 L306.60,272.96 L307.23,273.50 L307.86,274.04 L308.49,274.56 L309.12,275.08 L309.75,275.58 L310.37,276.06 L311.00,276.50 L311.63,276.90 L312.26,277.23 L312.89,277.49 L313.52,277.69 L314.15,277.83 L314.77,277.94 L315.40,278.02 L316.03,278.08 L316.66,278.12 L317.29,278.16 L317.92,278.19 L318.55,278.21 L319.17,278.23 L319.80,278.25 L320.43,278.27 L321.06,278.28 L321.69,278.29 L322.32,278.30 L322.95,278.31 L323.57,278.32 L324.20,278.32 L324.83,278.33 L325.46,278.34 L326.09,278.34 L326.72,278.35 L327.35,278.35 L327.97,278.35 L328.60,278.36 L329.23,278.36 L329.86,278.37 L330.49,278.37 L331.12,278.37 L331.74,278.37 L332.37,278.38 L333.00,278.38 L333.63,278.38 L334.26,278.38 L334.89,278.38 L335.52,278.39 L336.14,278.39 L336.77,278.39 L337.40,278.39 L338.03,278.39 L338.66,278.39 L339.29,278.40 L339.92,278.40 L340.54,278.40 L341.17,278.40 L341.80,278.40 L342.43,278.40 L343.06,278.40 L343.69,278.40 L344.32,278.40 L344.94,278.41 L345.57,278.41 L346.20,278.41 L346.83,278.41 L347.46,278.41 L348.09,278.41 L348.72,278.41 L349.34,278.41 L349.97,278.41 L350.60,278.41 L351.23,278.41 L351.86,278.41 L352.49,278.41 L353.12,278.42 L353.74,278.42 L354.37,278.42 L355.00,278.42 L355.63,278.42 L356.26,278.42 L356.89,278.42 L357.52,278.42 L358.14,278.42 L358.77,278.42 L359.40,278.42 L360.03,278.42 L360.66,278.42 L361.29,278.42 L361.92,278.42 L362.54,278.42 L363.17,278.42 L363.80,278.42 L364.43,278.42 L365.06,278.42 L365.69,278.42 L366.32,278.42 L366.94,278.42 L367.57,278.43 L368.20,278.43 L368.83,278.43 L369.46,278.43 L370.09,278.43 L370.71,278.43 L371.34,278.43 L371.97,278.43 L372.60,278.43 L373.23,278.43 L373.86,278.43 L374.49,278.43 L375.11,278.43 L375.74,278.43 L376.37,278.43 L377.00,278.43 L377.63,278.43 L378.26,278.43 L378.89,278.43 L379.51,278.43 L380.14,278.43 L380.77,278.43 L381.40,278.43 L382.03,278.43 L382.66,278.43 L383.29,278.43 L383.91,278.43 L384.54,278.43 L385.17,278.43 L385.80,278.43" stroke="#000" stroke-width="2.2"/>
</g>
<g stroke="#484848" stroke-width="1" fill="none">
<line x1="2" y1="279.25" x2="393.1" y2="279.25"/>
<line x1="197.5" y1="279.25" x2="197.5" y2="38.050000000000004"/>
<line x1="10.10" y1="279.25" x2="10.10" y2="274.35"/><line x1="28.84" y1="279.25" x2="28.84" y2="276.15"/><line x1="47.58" y1="279.25" x2="47.58" y2="276.15"/><line x1="66.32" y1="279.25" x2="66.32" y2="276.15"/><line x1="85.06" y1="279.25" x2="85.06" y2="276.15"/><line x1="103.80" y1="279.25" x2="103.80" y2="274.35"/><line x1="122.54" y1="279.25" x2="122.54" y2="276.15"/><line x1="141.28" y1="279.25" x2="141.28" y2="276.15"/><line x1="160.02" y1="279.25" x2="160.02" y2="276.15"/><line x1="178.76" y1="279.25" x2="178.76" y2="276.15"/><line x1="197.50" y1="279.25" x2="197.50" y2="274.35"/><line x1="216.24" y1="279.25" x2="216.24" y2="276.15"/><line x1="234.98" y1="279.25" x2="234.98" y2="276.15"/><line x1="253.72" y1="279.25" x2="253.72" y2="276.15"/><line x1="272.46" y1="279.25" x2="272.46" y2="276.15"/><line x1="291.20" y1="279.25" x2="291.20" y2="274.35"/><line x1="309.94" y1="279.25" x2="309.94" y2="276.15"/><line x1="328.68" y1="279.25" x2="328.68" y2="276.15"/><line x1="347.42" y1="279.25" x2="347.42" y2="276.15"/><line x1="366.16" y1="279.25" x2="366.16" y2="276.15"/><line x1="384.90" y1="279.25" x2="384.90" y2="274.35"/><line x1="197.5" y1="278.85" x2="201.80" y2="278.85"/><line x1="197.5" y1="266.83" x2="200.10" y2="266.83"/><line x1="197.5" y1="254.81" x2="200.10" y2="254.81"/><line x1="197.5" y1="242.79" x2="200.10" y2="242.79"/><line x1="197.5" y1="230.77" x2="200.10" y2="230.77"/><line x1="197.5" y1="218.75" x2="201.80" y2="218.75"/><line x1="197.5" y1="206.73" x2="200.10" y2="206.73"/><line x1="197.5" y1="194.71" x2="200.10" y2="194.71"/><line x1="197.5" y1="182.69" x2="200.10" y2="182.69"/><line x1="197.5" y1="170.67" x2="200.10" y2="170.67"/><line x1="197.5" y1="158.65" x2="201.80" y2="158.65"/><line x1="197.5" y1="146.63" x2="200.10" y2="146.63"/><line x1="197.5" y1="134.61" x2="200.10" y2="134.61"/><line x1="197.5" y1="122.59" x2="200.10" y2="122.59"/><line x1="197.5" y1="110.57" x2="200.10" y2="110.57"/><line x1="197.5" y1="98.55" x2="201.80" y2="98.55"/><line x1="197.5" y1="86.53" x2="200.10" y2="86.53"/><line x1="197.5" y1="74.51" x2="200.10" y2="74.51"/><line x1="197.5" y1="62.49" x2="200.10" y2="62.49"/><line x1="197.5" y1="50.47" x2="200.10" y2="50.47"/><line x1="197.5" y1="38.45" x2="201.80" y2="38.45"/>
</g>
<g font-size="10" style="will-change:transform;transform:translateZ(0)">
<text x="9.70" y="291.4" text-anchor="middle">−1.0</text><text x="103.40" y="291.4" text-anchor="middle">−0.5</text><text x="197.10" y="291.4" text-anchor="middle">0.0</text><text x="290.80" y="291.4" text-anchor="middle">0.5</text><text x="384.50" y="291.4" text-anchor="middle">1.0</text><text x="193.0" y="221.75" text-anchor="end">1.5</text><text x="193.0" y="161.65" text-anchor="end">2.0</text><text x="193.0" y="101.55" text-anchor="end">2.5</text><text x="193.0" y="41.45" text-anchor="end">3.0</text>
<text x="196.8" y="26.3" font-size="10" letter-spacing="0.15" text-anchor="middle">z(Apex)</text>
<text x="404.3" y="281.4" font-style="italic" text-anchor="middle">μ</text>
</g>
<text x="197.3" y="12.15" font-size="13.7" text-anchor="middle" style="will-change:transform;transform:translateZ(0)">Apex(<tspan font-style="italic">σ</tspan><tspan dx="1.3">=1)</tspan></text>
</svg>
</body></html>
